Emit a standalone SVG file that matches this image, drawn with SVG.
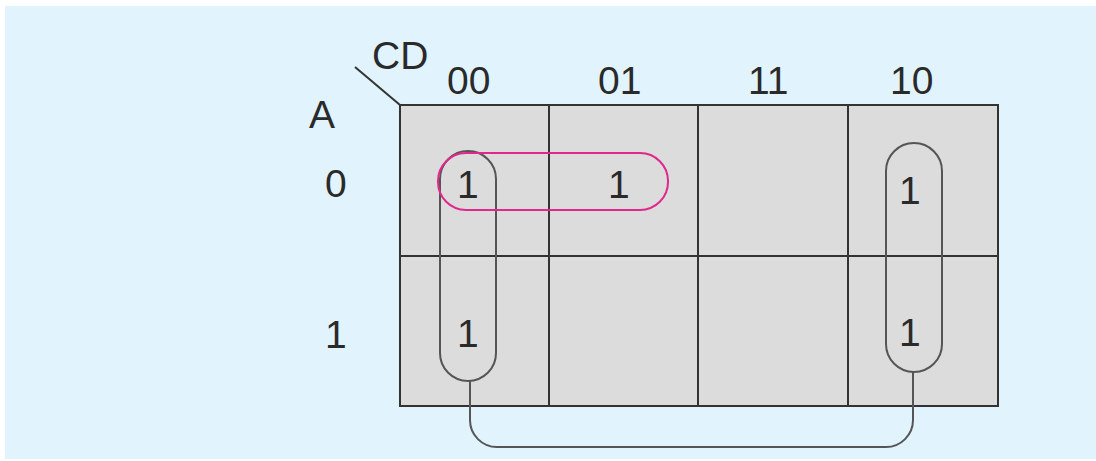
<svg xmlns="http://www.w3.org/2000/svg" width="1096" height="461" viewBox="0 0 1096 461">
<style>
.t{font-family:"Liberation Sans",Arial,sans-serif;font-size:39px;fill:#2a2a2a}
.g{stroke:#333;stroke-width:2;fill:none}
.loop{fill:none;stroke:#555;stroke-width:2}
</style>
<rect x="0" y="0" width="1096" height="461" fill="#ffffff"/>
<rect x="5" y="6" width="1091" height="453" fill="#e1f3fd"/>
<g id="grid">
<rect x="400" y="105" width="598" height="301" fill="#dcdcdd" stroke="#333" stroke-width="2"/>
<path class="g" d="M549 105V406M698 105V406M848 105V406M400 256H998"/>
<line class="g" x1="355" y1="67" x2="400" y2="105"/>
</g>
<g id="labels">
<text class="t" x="372" y="69">CD</text>
<text class="t" x="447" y="94">00</text>
<text class="t" x="598" y="94">01</text>
<text class="t" x="748" y="94">11</text>
<text class="t" x="890" y="94">10</text>
<text class="t" x="309" y="128">A</text>
<text class="t" x="325" y="197">0</text>
<text class="t" x="325" y="348">1</text>
</g>
<g id="cells">
<text class="t" x="457" y="198">1</text>
<text class="t" x="608" y="198">1</text>
<text class="t" x="899" y="204">1</text>
<text class="t" x="899" y="346">1</text>
<text class="t" x="457" y="347">1</text>
</g>
<g id="loops">
<rect id="loop-left" class="loop" x="440" y="151" width="56" height="230" rx="28" ry="28"/>
<rect id="loop-right" class="loop" x="886" y="143" width="56" height="229" rx="28" ry="28"/>
<rect id="loop-pink" x="438" y="153" width="230" height="57" rx="28" ry="28" fill="none" stroke="#e0288c" stroke-width="2"/>
</g>
<g id="connectors">
<path class="loop" d="M470 381V420A27 27 0 0 0 497 447H886A27 27 0 0 0 913 420V372"/>
</g>
</svg>
